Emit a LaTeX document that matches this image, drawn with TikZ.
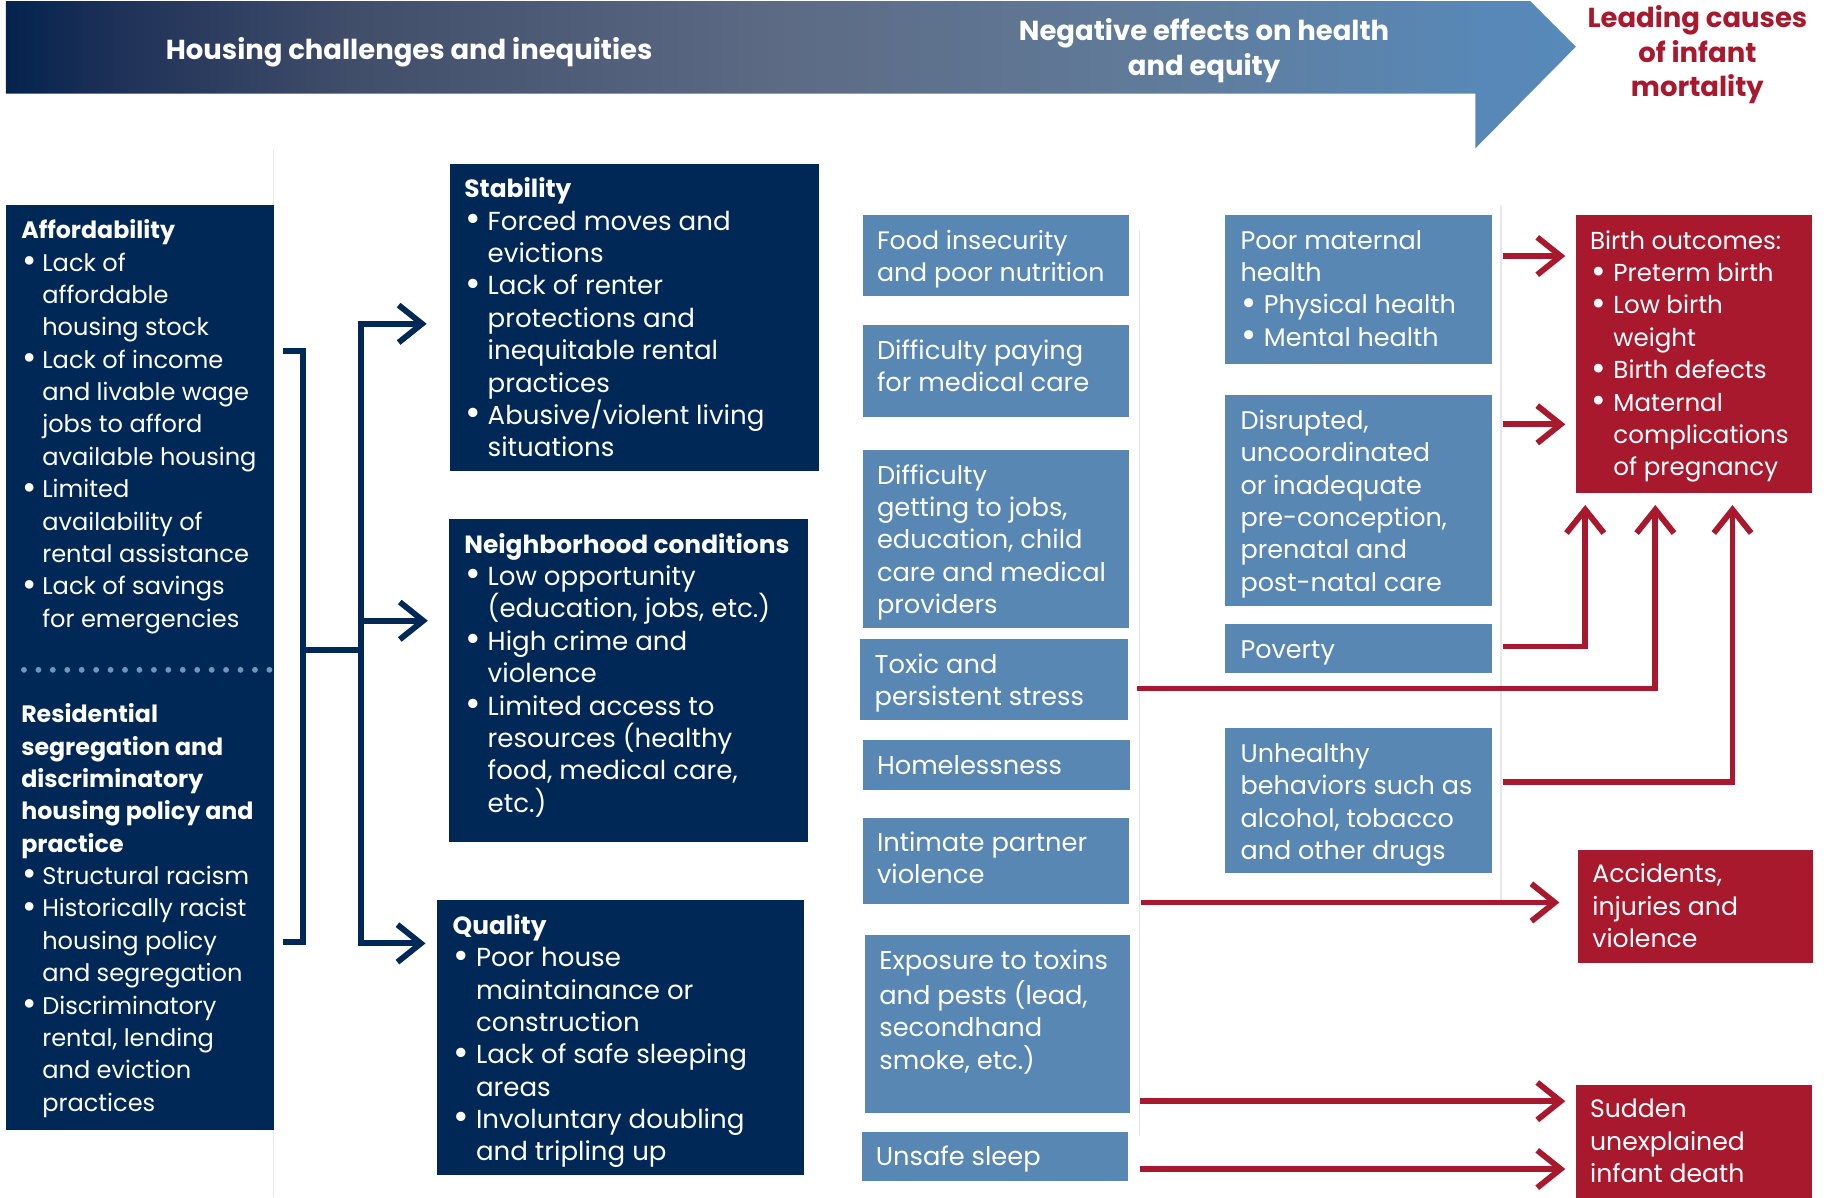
\documentclass[tikz,border=0pt]{standalone}
\usepackage{fontspec}
\usepackage{graphicx}
\setmainfont{Poppins}
\usetikzlibrary{arrows.meta,calc}
\definecolor{navy}{HTML}{002856}
\definecolor{steel}{HTML}{5887B4}
\definecolor{crim}{HTML}{A8192E}
\definecolor{dotblue}{HTML}{6E96C0}
\definecolor{faint}{HTML}{E8E8E8}
\definecolor{bnA}{HTML}{03234E}
\definecolor{bnB}{HTML}{1E3158}
\definecolor{bnC}{HTML}{414E6A}
\definecolor{bnD}{HTML}{5D6B85}
\definecolor{bnE}{HTML}{607C9B}
\definecolor{bnF}{HTML}{5888B7}
\definecolor{bnG}{HTML}{5789B9}
\pgfdeclarehorizontalshading{bannershade}{100bp}{color(0bp)=(bnA); color(25bp)=(bnA); color(28.5bp)=(bnB); color(36bp)=(bnC); color(50bp)=(bnD); color(62bp)=(bnE); color(72bp)=(bnF); color(75bp)=(bnG); color(100bp)=(bnG)}
\newcommand\hdrfont{\fontsize{23.5}{29.5}\selectfont\bfseries}
\newcommand\mydot{\smash{\raisebox{-1.2pt}{\scalebox{1.45}{\textbullet}}}}
\newcommand\mybul{\makebox[20pt][l]{\hspace{1pt}\mydot}}
\newcommand\myind{\hspace*{20pt}}
\newcommand\mybulL{\makebox[18pt][l]{\hspace{1pt}\mydot}}
\newcommand\myindL{\hspace*{18pt}}
\newcommand\ttl[1]{{\fontsize{21.3}{27.7}\selectfont\bfseries #1}}
\newcommand\ttlL[1]{{\fontsize{20.3}{27.7}\selectfont\bfseries #1}}
\tikzset{
  box/.style={draw=none, rectangle, inner sep=0pt, outer sep=0pt, anchor=north west},
  navybox/.style={box, fill=navy},
  steelbox/.style={box, fill=steel},
  crimbox/.style={box, fill=crim},
  txt/.style={anchor=north west, inner sep=0pt, align=left, text=white, font=\fontsize{#1}{27.7}\selectfont},
  txt/.default=21,
  hdr/.style={anchor=center, inner sep=0pt, align=center, font=\hdrfont},
  navyline/.style={draw=navy, line width=5pt},
  navyarrow/.style={navyline, -{Straight Barb[length=20pt,width=32pt]}},
  redarrow/.style={draw=crim, line width=5pt, -{Straight Barb[length=20pt,width=32pt]}},
  faintline/.style={draw=faint, line width=1pt}
}
\begin{document}
\begin{tikzpicture}[x=1pt,y=-1pt]
\useasboundingbox (0,0) rectangle (1568,1024);
% banner
\shade[shading=bannershade] (5,1) -- (1309,1) -- (1348,40) -- (1262,127) -- (1262,80) -- (5,80) -- cycle;
\node[hdr, text=white] (h1) at (350,45) {Housing challenges and inequities};
\node[hdr, text=white] (h2) at (1030,43.5) {Negative effects on health\\and equity};
\node[hdr, text=crim] (h3) at (1452,47) {Leading causes\\of infant\\mortality};
% faint separators
\draw[faintline] (234,128) -- (234,1024);
\draw[faintline] (975,197) -- (975,972);
\draw[faintline] (1284,175) -- (1284,770);
% left box
\node[navybox, minimum width=229pt, minimum height=792pt] (lb) at (5,175) {};
\node[txt=20.6] (lbT1) at (18,184.6) {\strut\ttlL{Affordability}\\
\mybulL Lack of\\
\myindL affordable\\
\myindL housing stock\\
\mybulL Lack of income\\
\myindL and livable wage\\
\myindL jobs to afford\\
\myindL available housing\\
\mybulL Limited\\
\myindL availability of\\
\myindL rental assistance\\
\mybulL Lack of savings\\
\myindL for emergencies};
\foreach \i in {0,...,17} \fill[dotblue] (20.5+\i*12.35,573) circle (2.5);
\node[txt=20.6] (lbT2) at (18,598.6) {\strut\ttlL{Residential}\\
\ttlL{segregation and}\\
\ttlL{discriminatory}\\
\ttlL{housing policy and}\\
\ttlL{practice}\\
\mybulL Structural racism\\
\mybulL Historically racist\\
\myindL housing policy\\
\myindL and segregation\\
\mybulL Discriminatory\\
\myindL rental, lending\\
\myindL and eviction\\
\myindL practices};
% second column
\node[navybox, minimum width=316pt, minimum height=263pt] (stab) at (385,140) {};
\node[txt=22.3] (stabT) at (397,149.6) {\strut\ttl{Stability}\\
\mybul Forced moves and\\
\myind evictions\\
\mybul Lack of renter\\
\myind protections and\\
\myind inequitable rental\\
\myind practices\\
\mybul Abusive/violent living\\
\myind situations};
\node[navybox, minimum width=307pt, minimum height=276pt] (nbh) at (384,444) {};
\node[txt=22.3] (nbhT) at (397,453.6) {\strut\ttl{Neighborhood conditions}\\
\mybul Low opportunity\\
\myind (education, jobs, etc.)\\
\mybul High crime and\\
\myind violence\\
\mybul Limited access to\\
\myind resources (healthy\\
\myind food, medical care,\\
\myind etc.)};
\node[navybox, minimum width=314pt, minimum height=235pt] (qual) at (374,770) {};
\node[txt=22.3] (qualT) at (387,779.6) {\strut\ttl{Quality}\\
\mybul Poor house\\
\myind maintainance or\\
\myind construction\\
\mybul Lack of safe sleeping\\
\myind areas\\
\mybul Involuntary doubling\\
\myind and tripling up};
% middle column
\node[steelbox, minimum width=228pt, minimum height=69pt] (m1) at (738,184) {};
\node[txt=21.6] (m1T) at (750,193.6) {\strut Food insecurity\\and poor nutrition};
\node[steelbox, minimum width=228pt, minimum height=79pt] (m2) at (738,278) {};
\node[txt=22] (m2T) at (750,287.6) {\strut Difficulty paying\\for medical care};
\node[steelbox, minimum width=228pt, minimum height=152pt] (m3) at (738,385) {};
\node[txt=22] (m3T) at (750,394.6) {\strut Difficulty\\getting to jobs,\\education, child\\care and medical\\providers};
\node[steelbox, minimum width=229pt, minimum height=69pt] (m4) at (736,547) {};
\node[txt=22] (m4T) at (748,556.6) {\strut Toxic and\\persistent stress};
\node[steelbox, minimum width=229pt, minimum height=43pt] (m5) at (738,633) {};
\node[txt=22] (m5T) at (750,642.6) {\strut Homelessness};
\node[steelbox, minimum width=228pt, minimum height=73pt] (m6) at (738,700) {};
\node[txt=22] (m6T) at (750,708.6) {\strut Intimate partner\\violence};
\node[steelbox, minimum width=227pt, minimum height=152pt] (m7) at (740,800) {};
\node[txt=22] (m7T) at (752,809.6) {\strut Exposure to toxins\\and pests (lead,\\secondhand\\smoke, etc.)};
\node[steelbox, minimum width=228pt, minimum height=42pt] (m8) at (737,968) {};
\node[txt=22] (m8T) at (749,977.6) {\strut Unsafe sleep};
% fourth column
\node[steelbox, minimum width=228pt, minimum height=127pt] (pm) at (1048,184) {};
\node[txt=21.8] (pmT) at (1061,193.6) {\strut Poor maternal\\health\\\mybul Physical health\\\mybul Mental health};
\node[steelbox, minimum width=228pt, minimum height=180pt] (dis) at (1048,338) {};
\node[txt=21.8] (disT) at (1061,347.6) {\strut Disrupted,\\uncoordinated\\or inadequate\\pre-conception,\\prenatal and\\post-natal care};
\node[steelbox, minimum width=228pt, minimum height=42pt] (pov) at (1048,534) {};
\node[txt=21.8] (povT) at (1061,543.6) {\strut Poverty};
\node[steelbox, minimum width=228pt, minimum height=124pt] (unh) at (1048,623) {};
\node[txt=21.8] (unhT) at (1061,632.6) {\strut Unhealthy\\behaviors such as\\alcohol, tobacco\\and other drugs};
% red column
\node[crimbox, minimum width=202pt, minimum height=238pt] (bo) at (1348,184) {};
\node[txt=21] (boT) at (1360,193.6) {\strut Birth outcomes:\\
\mybul Preterm birth\\
\mybul Low birth\\
\myind weight\\
\mybul Birth defects\\
\mybul Maternal\\
\myind complications\\
\myind of pregnancy};
\node[crimbox, minimum width=201pt, minimum height=97pt] (acc) at (1350,727) {};
\node[txt=21.5] (accT) at (1362,735.6) {\strut Accidents,\\injuries and\\violence};
\node[crimbox, minimum width=202pt, minimum height=97pt] (sids) at (1348,928) {};
\node[txt=21.5] (sidsT) at (1360,936.6) {\strut Sudden\\unexplained\\infant death};
% navy connectors
\coordinate (bt) at ($(lb.north east)+(8,125)$);
\coordinate (bb) at ($(lb.north east)+(8,631)$);
\coordinate (bj) at ($(lb.north east)+(25,381)$);
\coordinate (vj) at ($(lb.north east)+(75,381)$);
\coordinate (aS) at ($(stab.north west)+(-20,137)$);
\coordinate (aN) at ($(nbh.north west)+(-18,87)$);
\coordinate (aQ) at ($(qual.north west)+(-10,37)$);
\draw[navyline] (bt) -- ++(17,0) |- (bb);
\draw[navyline] (bj) -- (vj);
\draw[navyarrow] (vj) |- (aS);
\draw[navyarrow] (vj) |- (aN);
\draw[navyarrow] (vj) |- (aQ);
% red connectors
\coordinate (r1s) at ($(pm.north east)+(10,35)$);
\coordinate (r1e) at ($(bo.north west)+(-9,35)$);
\coordinate (r2s) at ($(dis.north east)+(10,25)$);
\coordinate (r2e) at ($(bo.north west)+(-9,179)$);
\coordinate (r3s) at ($(pov.north east)+(10,19)$);
\coordinate (r3e) at ($(bo.south west)+(8,10)$);
\coordinate (r4s) at ($(m4.north east)+(8,42)$);
\coordinate (r4e) at ($(bo.south west)+(68,10)$);
\coordinate (r5s) at ($(unh.north east)+(10,46)$);
\coordinate (r5e) at ($(bo.south west)+(134,10)$);
\coordinate (r6s) at ($(m6.north east)+(10,72)$);
\coordinate (r6e) at ($(acc.north west)+(-16,45)$);
\coordinate (r7s) at ($(m7.north east)+(8,142)$);
\coordinate (r7e) at ($(sids.north west)+(-9,14)$);
\coordinate (r8s) at ($(m8.north east)+(10,32)$);
\coordinate (r8e) at ($(sids.north west)+(-9,72)$);
\draw[redarrow] (r1s) -- (r1e);
\draw[redarrow] (r2s) -- (r2e);
\draw[redarrow] (r3s) -| (r3e);
\draw[redarrow] (r4s) -| (r4e);
\draw[redarrow] (r5s) -| (r5e);
\draw[redarrow] (r6s) -- (r6e);
\draw[redarrow] (r7s) -- (r7e);
\draw[redarrow] (r8s) -- (r8e);
\end{tikzpicture}
\end{document}
